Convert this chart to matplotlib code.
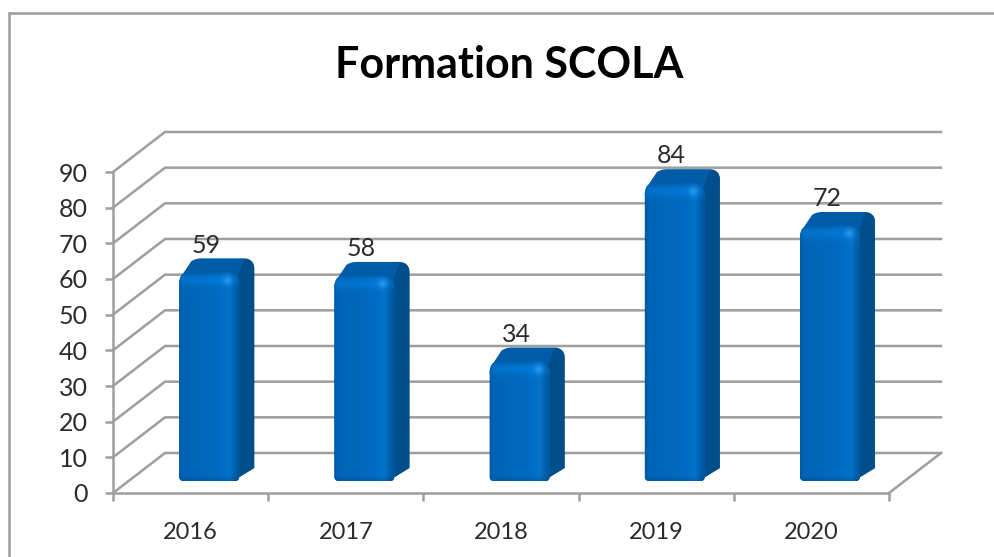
import numpy as np
import matplotlib
matplotlib.use("Agg")
import matplotlib.pyplot as plt
from matplotlib.path import Path
from matplotlib.patches import PathPatch
from matplotlib.lines import Line2D
from matplotlib.colors import to_rgb

categories = ["2016", "2017", "2018", "2019", "2020"]
values = [59, 58, 34, 84, 72]
y_ticks = [0, 10, 20, 30, 40, 50, 60, 70, 80, 90]
title = "Formation SCOLA"

plt.rcParams['font.family'] = ['Lato', 'DejaVu Sans']
W, H = 995, 557
fig = plt.figure(figsize=(W/100, H/100), dpi=100, facecolor='white')
L, R, B, T = 113, 889, 493, 172
ax = fig.add_axes([L/W, 1-B/H, (R-L)/W, (B-T)/H])
ax.patch.set_visible(False)

GRID = '#9e9e9e'
LW = 1.8
PX = (R-L)/5          # pixels per category
PY = (B-T)/90         # pixels per value unit
DX, DY = 52/PX, 40/PY # depth of the 3-D box in data units

# walls
for v in y_ticks:
    ax.plot([0, DX, 5+DX], [v, v+DY, v+DY], color=GRID, lw=LW, clip_on=False, zorder=1, solid_joinstyle='miter')
ax.plot([5, 5+DX], [0, DY], color=GRID, lw=LW, clip_on=False, zorder=1)

# axes
for s in ['top', 'right']:
    ax.spines[s].set_visible(False)
for s in ['left', 'bottom']:
    ax.spines[s].set_color(GRID)
    ax.spines[s].set_linewidth(LW)
    ax.spines[s].set_zorder(2)
ax.set_xlim(0, 5)
ax.set_ylim(0, 90)
ax.set_xticks(range(6))
ax.set_xticklabels([])
ax.set_xticks([i+0.5 for i in range(5)], minor=True)
ax.set_xticklabels(categories, minor=True, fontsize=17, color='#2b2b2b')
ax.tick_params(axis='x', which='major', length=6, width=LW, color=GRID)
ax.tick_params(axis='x', which='minor', length=0, pad=21)
ax.set_yticks(y_ticks)
ax.set_yticklabels([str(v) for v in y_ticks], fontsize=18, color='#2b2b2b')
ax.tick_params(axis='y', length=6, width=LW, color=GRID, pad=12)

# bars
BW = 60/PX
FD = 0.30             # front face position within the depth
K = 0.5523


def rounded(x0, x1, y0, y1, rt, rb):
    """Rounded rectangle in data units; rt / rb are radii in pixels."""
    tx, ty = rt/PX, rt/PY
    bx, by = rb/PX, rb/PY
    v = [(x0+bx, y0), (x1-bx, y0), (x1-bx*(1-K), y0), (x1, y0+by*(1-K)), (x1, y0+by),
         (x1, y1-ty), (x1, y1-ty*(1-K)), (x1-tx*(1-K), y1), (x1-tx, y1),
         (x0+tx, y1), (x0+tx*(1-K), y1), (x0, y1-ty*(1-K)), (x0, y1-ty),
         (x0, y0+by), (x0, y0+by*(1-K)), (x0+bx*(1-K), y0), (x0+bx, y0)]
    c = [Path.MOVETO, Path.LINETO, Path.CURVE4, Path.CURVE4, Path.CURVE4,
         Path.LINETO, Path.CURVE4, Path.CURVE4, Path.CURVE4,
         Path.LINETO, Path.CURVE4, Path.CURVE4, Path.CURVE4,
         Path.LINETO, Path.CURVE4, Path.CURVE4, Path.CURVE4]
    return Path(v, c)


def front_image(height):
    nx, ny = 70, max(int(height*PY), 4)
    xs = np.linspace(0, 1, nx)
    stops = [0, .05, .45, .72, .84, .93, 1]
    cols = np.array([to_rgb(c) for c in ['#00589f', '#0064b6', '#0068bc', '#006cc4', '#0572ca', '#0061ae', '#00559a']])
    row = np.stack([np.interp(xs, stops, cols[:, k]) for k in range(3)], axis=1)
    img = np.repeat(row[None, :, :], ny, axis=0)
    yy = np.arange(ny)[:, None]          # 0 = top pixel
    band = 0.07*np.exp(-((yy-8)/6.0)**2)
    img = img + band[..., None]*np.array([.1, .7, 1.0])
    top = np.clip(yy/4.0, 0, 1)
    img = img*(0.9+0.1*top)[..., None]
    bot = np.clip((ny-yy)/6.0, 0, 1)
    img = img*(0.88+0.12*bot)[..., None]
    # specular spot near the top right corner
    gx, gy = np.meshgrid(np.arange(nx)*60/nx, np.arange(ny))
    spot = np.exp(-(((gx-48)/4.0)**2+((gy-8)/4.0)**2))
    tint = np.array(to_rgb('#2f9cf0'))
    img = img*(1-0.8*spot[..., None]) + tint*0.8*spot[..., None]
    return np.clip(img, 0, 1)


for i, v in enumerate(values):
    off_x, off_y = DX*FD + 3/PX, DY*FD
    x0 = i + 0.5 + off_x - BW/2
    x1 = x0 + BW
    y0 = off_y
    y1 = off_y + v - 0.5
    dx, dy = 15/PX, 14/PY
    ux, uy = 1/PX, 1/PY
    xr, yt = x1+dx, y1+dy
    # dark silhouette: top and side faces
    verts = [(x1-7*ux, y0), (x1-3*ux, y0+2*uy), (xr, y0+dy-1*uy),
             (xr, yt-10*uy), (xr, yt-4*uy), (xr-4*ux, yt), (xr-10*ux, yt),
             (x0+dx+8*ux, yt), (x0+dx+3*ux, yt), (x0+dx, yt-1*uy), (x0+dx-3*ux, yt-3*uy),
             (x0+4*ux, y1-1*uy), (x0+1*ux, y1-3*uy), (x0, y1-7*uy), (x0, y1-12*uy),
             (x1, y1-12*uy), (x1-7*ux, y0)]
    codes = [Path.MOVETO, Path.LINETO, Path.LINETO,
             Path.LINETO, Path.CURVE4, Path.CURVE4, Path.CURVE4,
             Path.LINETO, Path.CURVE4, Path.CURVE4, Path.CURVE4,
             Path.LINETO, Path.CURVE4, Path.CURVE4, Path.CURVE4,
             Path.LINETO, Path.CLOSEPOLY]
    ax.add_patch(PathPatch(Path(verts, codes), facecolor='#005ca6', edgecolor='none', clip_on=False, zorder=3))
    # side face
    sv = [(x1-7*ux, y0), (x1-3*ux, y0+2*uy), (xr, y0+dy-1*uy),
          (xr, yt-10*uy), (xr, yt-4*uy), (xr-4*ux, yt), (xr-10*ux, yt-1*uy),
          (x1-2*ux, y1-6*uy), (x1-2*ux, y0), (x1-7*ux, y0)]
    sc = [Path.MOVETO, Path.LINETO, Path.LINETO, Path.LINETO, Path.CURVE4, Path.CURVE4, Path.CURVE4,
          Path.LINETO, Path.LINETO, Path.CLOSEPOLY]
    ax.add_patch(PathPatch(Path(sv, sc), facecolor='#004e8c', edgecolor='none', clip_on=False, zorder=3.1))
    # front face
    outline = rounded(x0, x1, y0, y1, 11, 4)
    ax.add_patch(PathPatch(outline, facecolor='#0068bc', edgecolor='none', clip_on=False, zorder=3.2))
    im = ax.imshow(front_image(v), extent=(x0, x1, y0, y1), aspect='auto', origin='upper',
                   interpolation='bilinear', zorder=3.3)
    im.set_clip_path(outline, transform=ax.transData)
    # value label
    ax.annotate(str(v), (i+0.6, v+10.5), ha='center', va='center', fontsize=18, color='#2b2b2b',
                annotation_clip=False, zorder=5)

ax.set_xlim(0, 5)
ax.set_ylim(0, 90)

# chart frame
fig.add_artist(Line2D([9/W, 9/W, 1], [0, 1-12.5/H, 1-12.5/H], color='#a0a0a0', lw=1.9,
                      transform=fig.transFigure, solid_joinstyle='miter'))
fig.text(509.5/W, 1-65/H, title, ha='center', va='center', fontsize=31, fontweight='bold', color='black')
fig.savefig('out.png', dpi=100)
